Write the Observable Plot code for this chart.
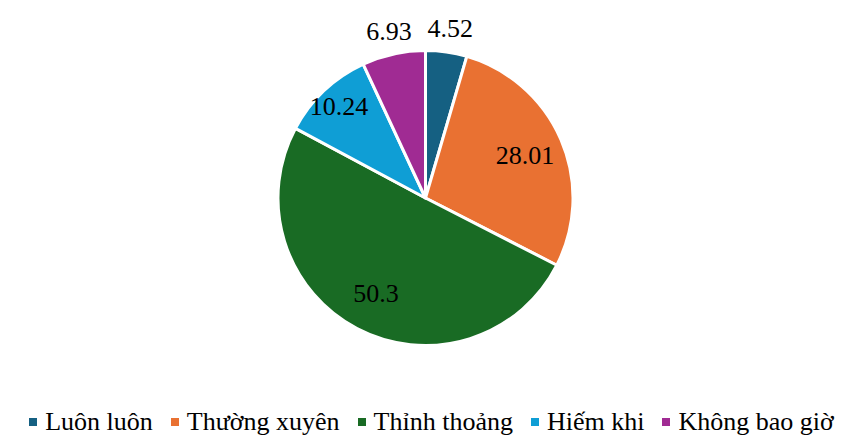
<!DOCTYPE html>
<html><head><meta charset="utf-8">
<script src="https://cdn.jsdelivr.net/npm/d3@7"></script>
<script src="https://cdn.jsdelivr.net/npm/@observablehq/plot@0.6"></script>
<style>
body{margin:0;background:#fff;width:855px;height:438px;overflow:hidden;font-family:"Liberation Serif","Times New Roman",serif;}
#legend{display:flex;justify-content:center;align-items:center;height:30px;line-height:30px;font-size:26px;white-space:nowrap;color:#000;margin-left:8px;}
.item{display:flex;align-items:center;margin:0 9px;}
.sw{width:8px;height:8px;margin-right:8px;flex:none;}
</style></head><body>
<div id="chart"></div><div id="legend"></div>
<script>
const categories = ["Luôn luôn", "Thường xuyên", "Thỉnh thoảng", "Hiếm khi", "Không bao giờ"];
const values = [4.52, 28.01, 50.3, 10.24, 6.93];
const labels = ["4.52", "28.01", "50.3", "10.24", "6.93"];
const colors = ["#156082", "#E97132", "#196B24", "#0F9ED5", "#A02B93"];

const W = 855, H = 407, CX = 425.5, CY = 198, R = 147.5;
const data = categories.map((c, i) => ({category: c, value: values[i], label: labels[i], color: colors[i]}));
const arcs = d3.pie().sort(null).value(d => d.value)(data);
const labelData = arcs.map(a => {
  const mid = (a.startAngle + a.endAngle) / 2;
  const k = a.data.value < 8 ? 1.16 : a.data.value < 15 ? 0.86 : 0.73;
  return {x: k * Math.sin(mid), y: k * Math.cos(mid), text: a.data.label};
});

function pieMark(index, scales) {
  const cx = scales.x(0), cy = scales.y(0), r = scales.x(1) - scales.x(0);
  const g = d3.create("svg:g").attr("transform", `translate(${cx},${cy})`);
  const arcGen = d3.arc().innerRadius(0).outerRadius(r);
  g.selectAll("path").data(arcs).join("path")
    .attr("d", arcGen)
    .attr("fill", d => d.data.color)
    .attr("stroke", "#fff")
    .attr("stroke-width", 3)
    .attr("stroke-linejoin", "round");
  return g.node();
}

const chart = Plot.plot({
  width: W, height: H,
  margin: 0,
  x: {domain: [-CX / R, (W - CX) / R], axis: null},
  y: {domain: [-(H - CY) / R, CY / R], axis: null},
  style: {background: "#fff"},
  marks: [
    pieMark,
    Plot.text(labelData, {x: "x", y: "y", text: "text", fontSize: 26, fill: "#000", fontFamily: "Liberation Serif"})
  ]
});
document.getElementById("chart").appendChild(chart);

const legend = d3.select("#legend");
const items = legend.selectAll(".item").data(data).join("div").attr("class", "item");
items.append("div").attr("class", "sw").style("background", d => d.color);
items.append("span").text(d => d.category);
</script>
</body></html>
